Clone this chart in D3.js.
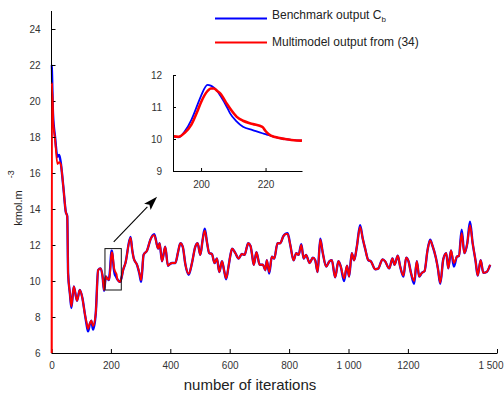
<!DOCTYPE html>
<html>
<head>
<meta charset="utf-8">
<script src="https://cdn.jsdelivr.net/npm/d3@7"></script>
<style>
  html, body { margin: 0; padding: 0; background: #fff; }
  svg { display: block; font-family: "Liberation Sans", Arial, Helvetica, sans-serif; }
</style>
</head>
<body>
<svg id="chart" width="504" height="399"></svg>
<script>
// Iteration index of each sample
const iterations = [
  0, 1, 5, 12, 20, 26, 31, 40, 48, 53, 56, 62, 67, 75, 86, 95, 104, 112, 118, 123,
  129, 134, 140, 149, 157, 165, 172, 177, 183, 187, 191, 193, 195, 197, 199, 200, 202, 203, 204, 205,
  206, 208, 209, 211, 213, 216, 219, 220, 221, 223, 226, 228, 231, 236, 241, 249, 266, 272, 277, 288,
  296, 302, 310, 322, 333, 346, 359, 364, 372, 383, 392, 399, 406, 417, 426, 434, 442, 451, 462, 473,
  484, 492, 501, 509, 516, 524, 531, 540, 549, 557, 565, 574, 581, 588, 596, 602, 608, 619, 630, 641,
  650, 658, 662, 670, 675, 681, 690, 701, 712, 720, 725, 733, 742, 750, 761, 770, 781, 788, 795, 804,
  815, 824, 832, 841, 849, 857, 869, 880, 888, 896, 905, 913, 925, 936, 944, 955, 966, 974, 985, 995,
  1002, 1011, 1019, 1028, 1039, 1048, 1056, 1067, 1075, 1090, 1101, 1107, 1114, 1123, 1137, 1148, 1155, 1166, 1174, 1185,
  1194, 1202, 1211, 1221, 1230, 1238, 1247, 1256, 1266, 1275, 1282, 1294, 1301, 1309, 1319, 1329, 1336, 1345, 1355, 1365,
  1372, 1381, 1390, 1400, 1409, 1418, 1428, 1435, 1445, 1454, 1465, 1477
];

// Benchmark output C_b (kmol.m^-3)
const benchmark = [
  22.0, 21.8, 19.3, 18.0, 16.9, 17.0, 16.6, 15.2, 13.85, 13.6, 10.4, 9.3, 8.5, 9.7, 8.9, 9.5, 9.05, 8.2, 7.6, 7.2,
  7.6, 7.8, 7.3, 8.2, 10.6, 10.7, 10.25, 9.45, 10.25, 10.15, 10.09, 10.05, 10.25, 10.6, 11.1, 11.35, 11.69, 11.67, 11.6, 11.5,
  11.35, 11.0, 10.8, 10.55, 10.38, 10.28, 10.18, 10.15, 10.12, 10.06, 10.0, 9.97, 9.95, 10.2, 10.6, 11.0, 12.45, 11.7, 11.25, 10.9,
  10.4, 9.95, 11.45, 11.7, 12.3, 12.6, 11.8, 12.1, 11.1, 11.9, 10.85, 10.95, 11.0, 11.0, 11.6, 12.1, 11.9, 10.9, 10.35, 11.0,
  11.9, 12.1, 11.45, 12.3, 12.9, 12.1, 11.55, 11.5, 11.0, 11.25, 10.5, 11.1, 10.6, 10.1, 10.8, 11.4, 11.8, 11.55, 11.25, 11.5,
  11.45, 11.9, 12.1, 11.95, 11.5, 10.9, 11.6, 10.9, 10.9, 10.6, 11.15, 10.42, 11.35, 11.25, 12.1, 12.1, 12.5, 12.62, 12.65, 12.0,
  11.15, 11.55, 11.45, 12.05, 11.25, 11.45, 11.0, 11.3, 11.15, 10.5, 12.35, 11.6, 10.8, 11.1, 11.15, 10.2, 11.1, 10.8, 10.0, 10.85,
  10.25, 11.55, 11.15, 11.9, 13.1, 12.35, 11.8, 11.15, 11.1, 10.65, 10.7, 10.95, 11.2, 11.1, 10.7, 11.25, 10.9, 11.4, 10.8, 10.25,
  11.3, 11.1, 10.4, 9.85, 11.1, 10.25, 10.45, 10.55, 11.7, 12.3, 12.0, 11.3, 10.7, 9.85, 11.2, 11.55, 10.7, 11.7, 10.8, 11.35,
  11.4, 12.85, 11.55, 12.1, 13.3, 12.1, 11.1, 10.3, 11.15, 10.45, 10.5, 10.9
];

// Multimodel output from (34) (kmol.m^-3)
const multimodel = [
  0.0, 21.0, 19.0, 17.9, 16.5, 16.6, 16.5, 15.2, 13.85, 13.6, 10.4, 9.3, 8.6, 9.7, 8.9, 9.5, 9.05, 8.2, 7.7, 7.35,
  7.65, 7.8, 7.5, 8.2, 10.6, 10.7, 10.25, 9.5, 10.25, 10.15, 10.09, 10.07, 10.2, 10.45, 10.9, 11.15, 11.5, 11.58, 11.58, 11.5,
  11.42, 11.1, 10.95, 10.7, 10.57, 10.47, 10.38, 10.25, 10.15, 10.06, 10.0, 9.97, 9.95, 10.2, 10.6, 11.0, 12.4, 11.7, 11.25, 10.9,
  10.45, 10.05, 11.45, 11.7, 12.3, 12.55, 11.8, 12.1, 11.1, 11.9, 10.85, 10.95, 11.0, 11.0, 11.6, 12.1, 11.9, 10.9, 10.4, 11.0,
  11.9, 12.1, 11.45, 12.3, 12.8, 12.1, 11.55, 11.5, 11.0, 11.25, 10.5, 11.1, 10.6, 10.15, 10.8, 11.4, 11.8, 11.55, 11.25, 11.5,
  11.45, 11.9, 12.1, 11.95, 11.5, 10.9, 11.6, 10.9, 10.9, 10.6, 11.15, 10.5, 11.35, 11.25, 12.1, 12.1, 12.5, 12.6, 12.62, 12.0,
  11.15, 11.55, 11.45, 12.0, 11.25, 11.45, 11.0, 11.3, 11.15, 10.5, 12.3, 11.6, 10.8, 11.1, 11.15, 10.2, 11.1, 10.8, 10.15, 10.85,
  10.25, 11.55, 11.15, 11.9, 13.0, 12.35, 11.8, 11.15, 11.1, 10.65, 10.7, 10.95, 11.2, 11.1, 10.7, 11.25, 10.9, 11.4, 10.8, 10.3,
  11.3, 11.1, 10.4, 10.0, 11.1, 10.25, 10.45, 10.55, 11.7, 12.25, 12.0, 11.3, 10.7, 9.9, 11.2, 11.55, 10.7, 11.7, 11.0, 11.35,
  11.4, 12.65, 11.55, 12.1, 13.1, 12.1, 11.1, 10.3, 11.15, 10.45, 10.5, 10.9
];

// Axis ticks
const xTickValues = [0, 200, 400, 600, 800, 1000, 1200, 1500];
const xTickLabels = ["0", "200", "400", "600", "800", "1 000", "1200", "1 500"];
const yTickValues = [6, 8, 10, 12, 14, 16, 18, 20, 22, 24];
const insetXTicks = [200, 220];
const insetYTicks = [9, 10, 11, 12];

// Zoom window (iterations x concentration) and arrow pointing to the inset
const zoomWindow = { x0: 180, x1: 235, y0: 9.5, y1: 11.8 };
const arrowFrom = [209.5, 12.18];
const arrowTo = [355.5, 14.68];

const seriesNames = ["Benchmark output C", "Multimodel output from (34)"];
const colors = { bench: "#0000ff", multi: "#ff0000" };

const svg = d3.select("#chart");
const tickColor = "#333";

// ---------- main plot ----------
const x = d3.scaleLinear().domain([0, 1500]).range([51.5, 497]);
const y = d3.scaleLinear().domain([6, 25]).range([353, 11]);

svg.append("clipPath").attr("id", "mainClip")
  .append("rect").attr("x", x(0) - 1).attr("y", y(25)).attr("width", x(1500) - x(0) + 2).attr("height", y(6) - y(25));

const benchPts = iterations.map((it, i) => [it, benchmark[i]]);
const multiPts = iterations.map((it, i) => [it, multimodel[i]]);

const line = d3.line().x(d => x(d[0])).y(d => y(d[1])).curve(d3.curveMonotoneX);

const plot = svg.append("g").attr("clip-path", "url(#mainClip)");
plot.append("path").datum(benchPts).attr("d", line)
  .attr("fill", "none").attr("stroke", colors.bench).attr("stroke-width", 2.4).attr("stroke-linejoin", "round");
plot.append("path").datum(multiPts).attr("d", line)
  .attr("fill", "none").attr("stroke", colors.multi).attr("stroke-width", 1.9).attr("stroke-linejoin", "round");

// axes
const yAxis = d3.axisLeft(y).tickValues(yTickValues).tickSizeInner(-4).tickSizeOuter(0).tickPadding(11);
const gy = svg.append("g").attr("transform", `translate(${x(0)},0)`).call(yAxis);
gy.select(".domain").attr("d", `M0,${y(25)}V${y(6)}`);

const xAxis = d3.axisBottom(x).tickValues(xTickValues).tickFormat((d, i) => xTickLabels[i])
  .tickSizeInner(-4).tickSizeOuter(0).tickPadding(9);
const gx = svg.append("g").attr("transform", `translate(0,${y(6)})`).call(xAxis);
// keep the last label inside the right edge
gx.selectAll(".tick text").filter(d => d === 1500).attr("text-anchor", "end").attr("x", 6);

[gx, gy].forEach(g => {
  g.select(".domain").attr("stroke", "#000").attr("stroke-width", 1);
  g.selectAll(".tick line").attr("stroke", "#000");
  g.selectAll(".tick text").attr("fill", tickColor).attr("font-size", 10)
    .attr("font-family", "'Liberation Sans', Arial, sans-serif");
});

// redraw the red start on top of the axis line
svg.append("g").attr("clip-path", "url(#mainClip)")
  .append("path").datum(multiPts.slice(0, 3)).attr("d", line)
  .attr("fill", "none").attr("stroke", colors.multi).attr("stroke-width", 1.9);

// axis titles
svg.append("text").attr("x", 250).attr("y", 390).attr("text-anchor", "middle")
  .attr("font-size", 15).attr("fill", "#222").text("number of iterations");

const yt = svg.append("text").attr("transform", "translate(22,198) rotate(-90)")
  .attr("text-anchor", "middle").attr("font-size", 11).attr("fill", "#222");
yt.append("tspan").text("kmol.m");
yt.append("tspan").attr("dx", 12).attr("dy", -8).attr("font-size", 9).text("-3");

// zoom window and arrow
svg.append("rect")
  .attr("x", x(zoomWindow.x0)).attr("y", y(zoomWindow.y1))
  .attr("width", x(zoomWindow.x1) - x(zoomWindow.x0)).attr("height", y(zoomWindow.y0) - y(zoomWindow.y1))
  .attr("fill", "none").attr("stroke", "#111").attr("stroke-width", 1);

{
  const [ax, ay] = [x(arrowFrom[0]), y(arrowFrom[1])];
  const [bx, by] = [x(arrowTo[0]), y(arrowTo[1])];
  const ang = Math.atan2(by - ay, bx - ax);
  const headLen = 14, headHalf = 4.5;
  const cx = bx - headLen * Math.cos(ang), cy = by - headLen * Math.sin(ang);
  svg.append("line").attr("x1", ax).attr("y1", ay).attr("x2", cx).attr("y2", cy)
    .attr("stroke", "#000").attr("stroke-width", 1.1);
  const px = -Math.sin(ang) * headHalf, py = Math.cos(ang) * headHalf;
  svg.append("path")
    .attr("d", `M${bx},${by}L${cx + px},${cy + py}L${cx + 3 * Math.cos(ang)},${cy + 3 * Math.sin(ang)}L${cx - px},${cy - py}Z`)
    .attr("fill", "#000");
}

// ---------- inset ----------
const ix = d3.scaleLinear().domain([191.3, 231.3]).range([173, 302]);
const iy = d3.scaleLinear().domain([9, 12]).range([171, 75]);

svg.append("clipPath").attr("id", "insetClip")
  .append("rect").attr("x", ix.range()[0]).attr("y", iy(12) - 3).attr("width", ix.range()[1] - ix.range()[0]).attr("height", iy(9) - iy(12) + 3);

const iline = d3.line().x(d => ix(d[0])).y(d => iy(d[1])).curve(d3.curveMonotoneX);
const inWin = p => p[0] >= 183 && p[0] <= 241;
const ig = svg.append("g").attr("clip-path", "url(#insetClip)");
ig.append("path").datum(benchPts.filter(inWin)).attr("d", iline)
  .attr("fill", "none").attr("stroke", colors.bench).attr("stroke-width", 1.8);
ig.append("path").datum(multiPts.filter(inWin)).attr("d", iline)
  .attr("fill", "none").attr("stroke", colors.multi).attr("stroke-width", 2.6);

const igy = svg.append("g").attr("transform", `translate(${ix.range()[0]},0)`)
  .call(d3.axisLeft(iy).tickValues(insetYTicks).tickFormat(d3.format("d")).tickSizeInner(-3).tickSizeOuter(0).tickPadding(11));
const igx = svg.append("g").attr("transform", `translate(0,${iy(9)})`)
  .call(d3.axisBottom(ix).tickValues(insetXTicks).tickFormat(d3.format("d")).tickSizeInner(-3).tickSizeOuter(0).tickPadding(10));
[igx, igy].forEach(g => {
  g.select(".domain").attr("stroke", "#000").attr("stroke-width", 1);
  g.selectAll(".tick line").attr("stroke", "#000");
  g.selectAll(".tick text").attr("fill", tickColor).attr("font-size", 10)
    .attr("font-family", "'Liberation Sans', Arial, sans-serif");
});

// ---------- legend ----------
const legend = svg.append("g");
legend.append("line").attr("x1", 215).attr("x2", 267).attr("y1", 18.5).attr("y2", 18.5)
  .attr("stroke", colors.bench).attr("stroke-width", 1.8);
legend.append("line").attr("x1", 215).attr("x2", 267).attr("y1", 42.5).attr("y2", 42.5)
  .attr("stroke", colors.multi).attr("stroke-width", 1.8);
const t1 = legend.append("text").attr("x", 272).attr("y", 18.5).attr("font-size", 12).attr("fill", "#222");
t1.append("tspan").text(seriesNames[0]);
t1.append("tspan").attr("dy", 3).attr("font-size", 8).text("b");
legend.append("text").attr("x", 272).attr("y", 45.5).attr("font-size", 12).attr("fill", "#222").text(seriesNames[1]);
</script>
</body>
</html>
